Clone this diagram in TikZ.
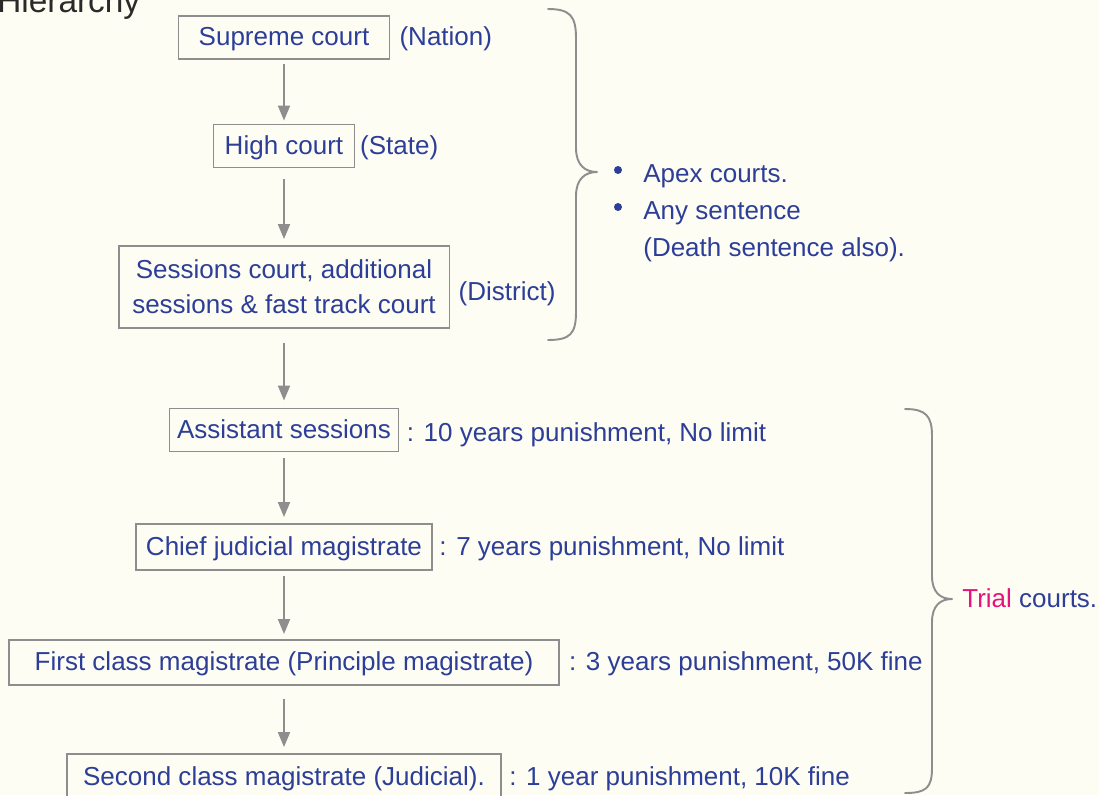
\documentclass[tikz,border=0pt]{standalone}
\usepackage{fontspec}
\setmainfont{Liberation Sans}
\usetikzlibrary{arrows.meta,positioning}
\definecolor{paper}{HTML}{FEFDF3}
\definecolor{ink}{HTML}{2C3E98}
\definecolor{wire}{HTML}{8E8E8E}
\definecolor{hot}{HTML}{E5137E}
\definecolor{pencil}{HTML}{2A2A2A}
\begin{document}
\begin{tikzpicture}[>=Latex,x=0.02cm,y=-0.02cm,
  txt/.style={font=\fontsize{14.8}{20}\selectfont,text=ink},
  strut/.style={text height=1.0em,text depth=0.06em},
  court/.style={txt,draw=wire,line width=1.1pt,inner sep=0pt,minimum height=0.86cm},
  note/.style={txt,strut,inner sep=0pt},
  link/.style={draw=wire,line width=1.1pt,-{Triangle[length=0.3cm,width=0.24cm]}},
  brace/.style={draw=wire,line width=1.1pt,line cap=round,line join=round},
  dot/.style={circle,fill=ink,inner sep=0pt,minimum size=0.16cm}]
  \clip (0,0) rectangle (1099,795);
  \fill[paper] (0,0) rectangle (1099,795);
  \node[anchor=base west,inner sep=0pt,text=pencil,font=\fontsize{19}{22}\selectfont] (title) at (-3,12) {Hierarchy};
  \node[court,strut,minimum width=4.22cm] (sup) at (284,37.5) {Supreme court};
  \node[court,strut,minimum width=2.82cm] (high) at (284,146) {High court};
  \node[court,align=center,minimum width=6.62cm,minimum height=1.64cm] (sess) at (284,287) {Sessions court, additional\\sessions \& fast track court};
  \node[court,strut,minimum width=4.58cm] (asst) at (284,430) {Assistant sessions};
  \node[court,strut,minimum width=5.92cm,minimum height=0.92cm] (cjm) at (284,547) {Chief judicial magistrate};
  \node[court,strut,minimum width=11cm,minimum height=0.9cm] (fcm) at (284,662.5) {First class magistrate (Principle magistrate)};
  \node[court,strut,minimum width=8.68cm,minimum height=0.92cm] (scm) at (284,777) {Second class magistrate (Judicial).};
  \node[note,right=5pt of sup] (nation) {(Nation)};
  \node[note,right=2.5pt of high] (state) {(State)};
  \node[note,right=4.5pt of sess,yshift=-0.1cm] (district) {(District)};
  \node[note,right=4pt of asst,yshift=-0.06cm] (asstN) {: 10 years punishment, No limit};
  \node[note,right=3.5pt of cjm] (cjmN) {: 7 years punishment, No limit};
  \node[note,right=5pt of fcm] (fcmN) {: 3 years punishment, 50K fine};
  \node[note,right=4pt of scm] (scmN) {: 1 year punishment, 10K fine};
  \draw[link,shorten <=0.08cm,shorten >=0.06cm] (sup) -- (high);
  \draw[link,shorten <=0.22cm,shorten >=0.12cm] (high) -- (sess);
  \draw[link,shorten <=0.28cm,shorten >=0.14cm] (sess) -- (asst);
  \draw[link,shorten <=0.12cm,shorten >=0.12cm] (asst) -- (cjm);
  \draw[link,shorten <=0.1cm,shorten >=0.1cm] (cjm) -- (fcm);
  \draw[link,shorten <=0.26cm,shorten >=0.12cm] (fcm) -- (scm);
  \coordinate (apexTip) at (597,172);
  \draw[brace] (548,9) .. controls (570,9) and (576,16) .. (576,38) -- (576,148)
    .. controls (576,165) and (585,172) .. (apexTip)
    .. controls (585,172) and (576,179) .. (576,196) -- (576,312)
    .. controls (576,334) and (570,340) .. (548,340);
  \node[dot] (b1) at (618,170) {};
  \node[dot] (b2) at (618,207) {};
  \node[note,anchor=base west] (apex) at (643,182) {Apex courts.};
  \node[note,anchor=base west] (anyS) at (643,219) {Any sentence};
  \node[note,anchor=base west] (death) at (643,256) {(Death sentence also).};
  \coordinate (trialTip) at (952,599);
  \draw[brace] (905,409) .. controls (926,409) and (932,416) .. (932,436) -- (932,576)
    .. controls (932,592) and (940,599) .. (trialTip)
    .. controls (940,599) and (932,606) .. (932,622) -- (932,768)
    .. controls (932,788) and (926,793) .. (905,793);
  \node[note,right=0.2cm of trialTip] (trial) {\textcolor{hot}{Trial} courts.};
\end{tikzpicture}
\end{document}
